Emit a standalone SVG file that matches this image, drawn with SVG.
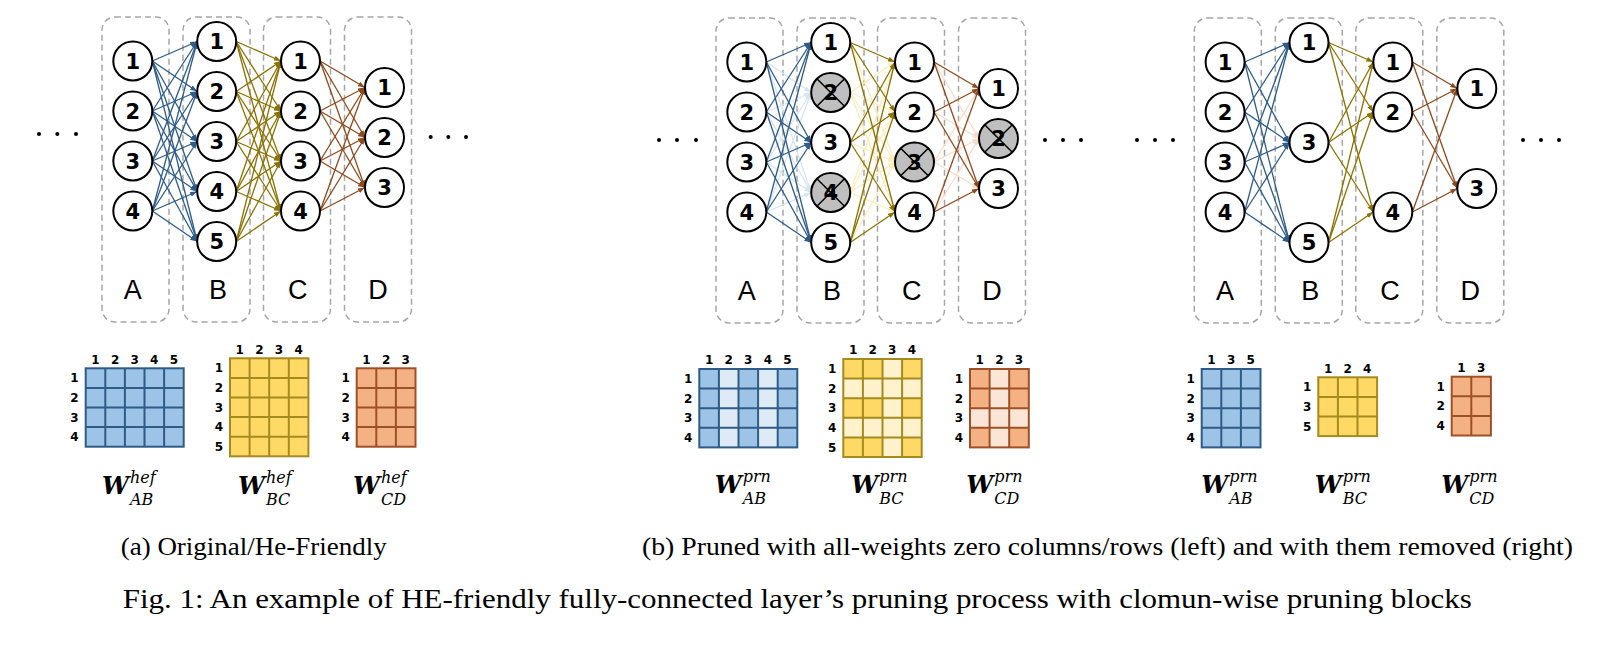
<svg xmlns="http://www.w3.org/2000/svg" width="1603" height="650" viewBox="0 0 1603 650">
<defs>
<style>
.box{fill:none;stroke:#A6A6A6;stroke-width:1.5;stroke-dasharray:6 4}
.lay{font-family:"Liberation Sans","Open Sans",Arial,sans-serif;font-size:27px;text-anchor:middle;fill:#000}
.nd circle{fill:#fff;stroke:#000;stroke-width:2}
.nd.pr circle{fill:#BFBFBF}
.nd path{stroke:#000;stroke-width:1.5;fill:none}
.nd text{font-family:"DejaVu Sans","Open Sans",sans-serif;font-weight:bold;font-size:21px;text-anchor:middle;fill:#000}
.cn path{fill:none;stroke-width:1.3}
.ab path{stroke:#2E5C8A;marker-end:url(#mB)}
.bc path{stroke:#8C7200;marker-end:url(#mY)}
.cd path{stroke:#8E4A1C;marker-end:url(#mO)}
.abl path{stroke:#D6E4F2;marker-end:url(#mBl)}
.bcl path{stroke:#FDEBB8;marker-end:url(#mYl)}
.cdl path{stroke:#F8DCCB;marker-end:url(#mOl)}
.dot{fill:#000}
.mh{font-family:"DejaVu Sans",sans-serif;font-weight:bold;font-size:12px;text-anchor:middle;fill:#000}
.fB{fill:#9DC3E6}.lB{fill:#DEEBF7}.sB{fill:none;stroke:#2F5B87;stroke-width:2}
.fY{fill:#FFD966}.lY{fill:#FFF2CC}.sY{fill:none;stroke:#A58A1E;stroke-width:2}
.fO{fill:#F4B183}.lO{fill:#FBE5D6}.sO{fill:none;stroke:#9E5026;stroke-width:2}
.wm{font-family:"DejaVu Serif","Liberation Serif",serif;font-weight:bold;font-style:italic;font-size:24px;fill:#000}
.ws{font-family:"DejaVu Serif","Liberation Serif",serif;font-style:italic;font-size:16px;fill:#000}
.cap{font-family:"Liberation Serif","Times New Roman",serif;fill:#000}
</style>
<marker id="mB" viewBox="0 0 7 5" refX="7" refY="2.5" markerWidth="7" markerHeight="5" markerUnits="userSpaceOnUse" orient="auto"><path d="M0,0L7,2.5L0,5z" fill="#2E5C8A"/></marker>
<marker id="mY" viewBox="0 0 7 5" refX="7" refY="2.5" markerWidth="7" markerHeight="5" markerUnits="userSpaceOnUse" orient="auto"><path d="M0,0L7,2.5L0,5z" fill="#8C7200"/></marker>
<marker id="mO" viewBox="0 0 7 5" refX="7" refY="2.5" markerWidth="7" markerHeight="5" markerUnits="userSpaceOnUse" orient="auto"><path d="M0,0L7,2.5L0,5z" fill="#8E4A1C"/></marker>
<marker id="mBl" viewBox="0 0 7 5" refX="7" refY="2.5" markerWidth="7" markerHeight="5" markerUnits="userSpaceOnUse" orient="auto"><path d="M0,0L7,2.5L0,5z" fill="#D6E4F2"/></marker>
<marker id="mYl" viewBox="0 0 7 5" refX="7" refY="2.5" markerWidth="7" markerHeight="5" markerUnits="userSpaceOnUse" orient="auto"><path d="M0,0L7,2.5L0,5z" fill="#FDEBB8"/></marker>
<marker id="mOl" viewBox="0 0 7 5" refX="7" refY="2.5" markerWidth="7" markerHeight="5" markerUnits="userSpaceOnUse" orient="auto"><path d="M0,0L7,2.5L0,5z" fill="#F8DCCB"/></marker>
</defs>
<rect width="1603" height="650" fill="#fff"/>

<!-- ellipsis dots -->
<g id="dots">
<circle class="dot" cx="39" cy="134" r="2"/><circle class="dot" cx="57.3" cy="134" r="2"/><circle class="dot" cx="76" cy="134" r="2"/>
<circle class="dot" cx="430.7" cy="137" r="2"/><circle class="dot" cx="448.3" cy="137" r="2"/><circle class="dot" cx="466" cy="137" r="2"/>
<circle class="dot" cx="659" cy="140" r="2"/><circle class="dot" cx="677" cy="140" r="2"/><circle class="dot" cx="696" cy="140" r="2"/>
<circle class="dot" cx="1045" cy="140" r="2"/><circle class="dot" cx="1063" cy="140" r="2"/><circle class="dot" cx="1081" cy="140" r="2"/>
<circle class="dot" cx="1137" cy="140" r="2"/><circle class="dot" cx="1155" cy="140" r="2"/><circle class="dot" cx="1173" cy="140" r="2"/>
<circle class="dot" cx="1523" cy="140" r="2"/><circle class="dot" cx="1541" cy="140" r="2"/><circle class="dot" cx="1559" cy="140" r="2"/>
</g>

<!-- ===== Panel 1 ===== -->
<g id="panel1">
<g id="p1-layers">
<rect class="box" x="102" y="17" width="67" height="305" rx="13"/>
<rect class="box" x="183" y="17" width="67" height="305" rx="13"/>
<rect class="box" x="263.5" y="17" width="67" height="305" rx="13"/>
<rect class="box" x="344.5" y="17" width="67" height="305" rx="13"/>
<text class="lay" x="132.7" y="299">A</text><text class="lay" x="218" y="299">B</text><text class="lay" x="297.7" y="299">C</text><text class="lay" x="378" y="299">D</text>
</g>
<g id="p1-connectors" class="cn">
<g class="ab">
<path d="M152.3 61L197.2 41.5"/><path d="M152.3 61L197.2 91.5"/><path d="M152.3 61L197.2 141.5"/><path d="M152.3 61L197.2 191.5"/><path d="M152.3 61L197.2 241.5"/>
<path d="M152.3 111L197.2 41.5"/><path d="M152.3 111L197.2 91.5"/><path d="M152.3 111L197.2 141.5"/><path d="M152.3 111L197.2 191.5"/><path d="M152.3 111L197.2 241.5"/>
<path d="M152.3 161L197.2 41.5"/><path d="M152.3 161L197.2 91.5"/><path d="M152.3 161L197.2 141.5"/><path d="M152.3 161L197.2 191.5"/><path d="M152.3 161L197.2 241.5"/>
<path d="M152.3 211L197.2 41.5"/><path d="M152.3 211L197.2 91.5"/><path d="M152.3 211L197.2 141.5"/><path d="M152.3 211L197.2 191.5"/><path d="M152.3 211L197.2 241.5"/>
</g>
<g class="bc">
<path d="M236.2 41.5L281 61"/><path d="M236.2 41.5L281 111"/><path d="M236.2 41.5L281 161"/><path d="M236.2 41.5L281 211"/>
<path d="M236.2 91.5L281 61"/><path d="M236.2 91.5L281 111"/><path d="M236.2 91.5L281 161"/><path d="M236.2 91.5L281 211"/>
<path d="M236.2 141.5L281 61"/><path d="M236.2 141.5L281 111"/><path d="M236.2 141.5L281 161"/><path d="M236.2 141.5L281 211"/>
<path d="M236.2 191.5L281 61"/><path d="M236.2 191.5L281 111"/><path d="M236.2 191.5L281 161"/><path d="M236.2 191.5L281 211"/>
<path d="M236.2 241.5L281 61"/><path d="M236.2 241.5L281 111"/><path d="M236.2 241.5L281 161"/><path d="M236.2 241.5L281 211"/>
</g>
<g class="cd">
<path d="M320 61L365 87.5"/><path d="M320 61L365 137.5"/><path d="M320 61L365 187.5"/>
<path d="M320 111L365 87.5"/><path d="M320 111L365 137.5"/><path d="M320 111L365 187.5"/>
<path d="M320 161L365 87.5"/><path d="M320 161L365 137.5"/><path d="M320 161L365 187.5"/>
<path d="M320 211L365 87.5"/><path d="M320 211L365 137.5"/><path d="M320 211L365 187.5"/>
</g>
</g>
<g id="p1-A1" class="nd"><circle cx="132.8" cy="61" r="19.5"/><text x="132.8" y="68.6">1</text></g>
<g id="p1-A2" class="nd"><circle cx="132.8" cy="111" r="19.5"/><text x="132.8" y="118.6">2</text></g>
<g id="p1-A3" class="nd"><circle cx="132.8" cy="161" r="19.5"/><text x="132.8" y="168.6">3</text></g>
<g id="p1-A4" class="nd"><circle cx="132.8" cy="211" r="19.5"/><text x="132.8" y="218.6">4</text></g>
<g id="p1-B1" class="nd"><circle cx="216.7" cy="41.5" r="19.5"/><text x="216.7" y="49.1">1</text></g>
<g id="p1-B2" class="nd"><circle cx="216.7" cy="91.5" r="19.5"/><text x="216.7" y="99.1">2</text></g>
<g id="p1-B3" class="nd"><circle cx="216.7" cy="141.5" r="19.5"/><text x="216.7" y="149.1">3</text></g>
<g id="p1-B4" class="nd"><circle cx="216.7" cy="191.5" r="19.5"/><text x="216.7" y="199.1">4</text></g>
<g id="p1-B5" class="nd"><circle cx="216.7" cy="241.5" r="19.5"/><text x="216.7" y="249.1">5</text></g>
<g id="p1-C1" class="nd"><circle cx="300.5" cy="61" r="19.5"/><text x="300.5" y="68.6">1</text></g>
<g id="p1-C2" class="nd"><circle cx="300.5" cy="111" r="19.5"/><text x="300.5" y="118.6">2</text></g>
<g id="p1-C3" class="nd"><circle cx="300.5" cy="161" r="19.5"/><text x="300.5" y="168.6">3</text></g>
<g id="p1-C4" class="nd"><circle cx="300.5" cy="211" r="19.5"/><text x="300.5" y="218.6">4</text></g>
<g id="p1-D1" class="nd"><circle cx="384.5" cy="87.5" r="19.5"/><text x="384.5" y="95.1">1</text></g>
<g id="p1-D2" class="nd"><circle cx="384.5" cy="137.5" r="19.5"/><text x="384.5" y="145.1">2</text></g>
<g id="p1-D3" class="nd"><circle cx="384.5" cy="187.5" r="19.5"/><text x="384.5" y="195.1">3</text></g>
</g>

<!-- ===== Panel 2 ===== -->
<g id="panel2" transform="translate(614,1)">
<g id="p2-layers">
<rect class="box" x="102" y="17" width="67" height="305" rx="13"/>
<rect class="box" x="183" y="17" width="67" height="305" rx="13"/>
<rect class="box" x="263.5" y="17" width="67" height="305" rx="13"/>
<rect class="box" x="344.5" y="17" width="67" height="305" rx="13"/>
<text class="lay" x="132.7" y="299">A</text><text class="lay" x="218" y="299">B</text><text class="lay" x="297.7" y="299">C</text><text class="lay" x="378" y="299">D</text>
</g>
<g id="p2-connectors" class="cn">
<g class="abl">
<path d="M152.3 61L197.2 91.5"/><path d="M152.3 61L197.2 191.5"/>
<path d="M152.3 111L197.2 91.5"/><path d="M152.3 111L197.2 191.5"/>
<path d="M152.3 161L197.2 91.5"/><path d="M152.3 161L197.2 191.5"/>
<path d="M152.3 211L197.2 91.5"/><path d="M152.3 211L197.2 191.5"/>
</g>
<g class="bcl">
<path d="M236.2 41.5L281 161"/><path d="M236.2 141.5L281 161"/><path d="M236.2 241.5L281 161"/>
<path d="M236.2 91.5L281 61"/><path d="M236.2 91.5L281 111"/><path d="M236.2 91.5L281 161"/><path d="M236.2 91.5L281 211"/>
<path d="M236.2 191.5L281 61"/><path d="M236.2 191.5L281 111"/><path d="M236.2 191.5L281 161"/><path d="M236.2 191.5L281 211"/>
</g>
<g class="cdl">
<path d="M320 61L365 137.5"/><path d="M320 111L365 137.5"/><path d="M320 211L365 137.5"/>
<path d="M320 161L365 87.5"/><path d="M320 161L365 137.5"/><path d="M320 161L365 187.5"/>
</g>
<g class="ab">
<path d="M152.3 61L197.2 41.5"/><path d="M152.3 61L197.2 141.5"/><path d="M152.3 61L197.2 241.5"/>
<path d="M152.3 111L197.2 41.5"/><path d="M152.3 111L197.2 141.5"/><path d="M152.3 111L197.2 241.5"/>
<path d="M152.3 161L197.2 41.5"/><path d="M152.3 161L197.2 141.5"/><path d="M152.3 161L197.2 241.5"/>
<path d="M152.3 211L197.2 41.5"/><path d="M152.3 211L197.2 141.5"/><path d="M152.3 211L197.2 241.5"/>
</g>
<g class="bc">
<path d="M236.2 41.5L281 61"/><path d="M236.2 41.5L281 111"/><path d="M236.2 41.5L281 211"/>
<path d="M236.2 141.5L281 61"/><path d="M236.2 141.5L281 111"/><path d="M236.2 141.5L281 211"/>
<path d="M236.2 241.5L281 61"/><path d="M236.2 241.5L281 111"/><path d="M236.2 241.5L281 211"/>
</g>
<g class="cd">
<path d="M320 61L365 87.5"/><path d="M320 61L365 187.5"/>
<path d="M320 111L365 87.5"/><path d="M320 111L365 187.5"/>
<path d="M320 211L365 87.5"/><path d="M320 211L365 187.5"/>
</g>
</g>
<g id="p2-A1" class="nd"><circle cx="132.8" cy="61" r="19.5"/><text x="132.8" y="68.6">1</text></g>
<g id="p2-A2" class="nd"><circle cx="132.8" cy="111" r="19.5"/><text x="132.8" y="118.6">2</text></g>
<g id="p2-A3" class="nd"><circle cx="132.8" cy="161" r="19.5"/><text x="132.8" y="168.6">3</text></g>
<g id="p2-A4" class="nd"><circle cx="132.8" cy="211" r="19.5"/><text x="132.8" y="218.6">4</text></g>
<g id="p2-B1" class="nd"><circle cx="216.7" cy="41.5" r="19.5"/><text x="216.7" y="49.1">1</text></g>
<g id="p2-B2" class="nd pr"><circle cx="216.7" cy="91.5" r="19.5"/><path d="M202.9 77.7L230.5 105.3M230.5 77.7L202.9 105.3"/><text x="216.7" y="99.1">2</text></g>
<g id="p2-B3" class="nd"><circle cx="216.7" cy="141.5" r="19.5"/><text x="216.7" y="149.1">3</text></g>
<g id="p2-B4" class="nd pr"><circle cx="216.7" cy="191.5" r="19.5"/><path d="M202.9 177.7L230.5 205.3M230.5 177.7L202.9 205.3"/><text x="216.7" y="199.1">4</text></g>
<g id="p2-B5" class="nd"><circle cx="216.7" cy="241.5" r="19.5"/><text x="216.7" y="249.1">5</text></g>
<g id="p2-C1" class="nd"><circle cx="300.5" cy="61" r="19.5"/><text x="300.5" y="68.6">1</text></g>
<g id="p2-C2" class="nd"><circle cx="300.5" cy="111" r="19.5"/><text x="300.5" y="118.6">2</text></g>
<g id="p2-C3" class="nd pr"><circle cx="300.5" cy="161" r="19.5"/><path d="M286.7 147.2L314.3 174.8M314.3 147.2L286.7 174.8"/><text x="300.5" y="168.6">3</text></g>
<g id="p2-C4" class="nd"><circle cx="300.5" cy="211" r="19.5"/><text x="300.5" y="218.6">4</text></g>
<g id="p2-D1" class="nd"><circle cx="384.5" cy="87.5" r="19.5"/><text x="384.5" y="95.1">1</text></g>
<g id="p2-D2" class="nd pr"><circle cx="384.5" cy="137.5" r="19.5"/><path d="M370.7 123.7L398.3 151.3M398.3 123.7L370.7 151.3"/><text x="384.5" y="145.1">2</text></g>
<g id="p2-D3" class="nd"><circle cx="384.5" cy="187.5" r="19.5"/><text x="384.5" y="195.1">3</text></g>
</g>

<!-- ===== Panel 3 ===== -->
<g id="panel3" transform="translate(1092.3,1)">
<g id="p3-layers">
<rect class="box" x="102" y="17" width="67" height="305" rx="13"/>
<rect class="box" x="183" y="17" width="67" height="305" rx="13"/>
<rect class="box" x="263.5" y="17" width="67" height="305" rx="13"/>
<rect class="box" x="344.5" y="17" width="67" height="305" rx="13"/>
<text class="lay" x="132.7" y="299">A</text><text class="lay" x="218" y="299">B</text><text class="lay" x="297.7" y="299">C</text><text class="lay" x="378" y="299">D</text>
</g>
<g id="p3-connectors" class="cn">
<g class="ab">
<path d="M152.3 61L197.2 41.5"/><path d="M152.3 61L197.2 141.5"/><path d="M152.3 61L197.2 241.5"/>
<path d="M152.3 111L197.2 41.5"/><path d="M152.3 111L197.2 141.5"/><path d="M152.3 111L197.2 241.5"/>
<path d="M152.3 161L197.2 41.5"/><path d="M152.3 161L197.2 141.5"/><path d="M152.3 161L197.2 241.5"/>
<path d="M152.3 211L197.2 41.5"/><path d="M152.3 211L197.2 141.5"/><path d="M152.3 211L197.2 241.5"/>
</g>
<g class="bc">
<path d="M236.2 41.5L281 61"/><path d="M236.2 41.5L281 111"/><path d="M236.2 41.5L281 211"/>
<path d="M236.2 141.5L281 61"/><path d="M236.2 141.5L281 111"/><path d="M236.2 141.5L281 211"/>
<path d="M236.2 241.5L281 61"/><path d="M236.2 241.5L281 111"/><path d="M236.2 241.5L281 211"/>
</g>
<g class="cd">
<path d="M320 61L365 87.5"/><path d="M320 61L365 187.5"/>
<path d="M320 111L365 87.5"/><path d="M320 111L365 187.5"/>
<path d="M320 211L365 87.5"/><path d="M320 211L365 187.5"/>
</g>
</g>
<g id="p3-A1" class="nd"><circle cx="132.8" cy="61" r="19.5"/><text x="132.8" y="68.6">1</text></g>
<g id="p3-A2" class="nd"><circle cx="132.8" cy="111" r="19.5"/><text x="132.8" y="118.6">2</text></g>
<g id="p3-A3" class="nd"><circle cx="132.8" cy="161" r="19.5"/><text x="132.8" y="168.6">3</text></g>
<g id="p3-A4" class="nd"><circle cx="132.8" cy="211" r="19.5"/><text x="132.8" y="218.6">4</text></g>
<g id="p3-B1" class="nd"><circle cx="216.7" cy="41.5" r="19.5"/><text x="216.7" y="49.1">1</text></g>
<g id="p3-B3" class="nd"><circle cx="216.7" cy="141.5" r="19.5"/><text x="216.7" y="149.1">3</text></g>
<g id="p3-B5" class="nd"><circle cx="216.7" cy="241.5" r="19.5"/><text x="216.7" y="249.1">5</text></g>
<g id="p3-C1" class="nd"><circle cx="300.5" cy="61" r="19.5"/><text x="300.5" y="68.6">1</text></g>
<g id="p3-C2" class="nd"><circle cx="300.5" cy="111" r="19.5"/><text x="300.5" y="118.6">2</text></g>
<g id="p3-C4" class="nd"><circle cx="300.5" cy="211" r="19.5"/><text x="300.5" y="218.6">4</text></g>
<g id="p3-D1" class="nd"><circle cx="384.5" cy="87.5" r="19.5"/><text x="384.5" y="95.1">1</text></g>
<g id="p3-D3" class="nd"><circle cx="384.5" cy="187.5" r="19.5"/><text x="384.5" y="195.1">3</text></g>
</g>

<!-- ===== Matrices ===== -->
<g id="m1-ab">
<rect class="fB" x="85.7" y="368.3" width="98" height="78.4"/>
<path class="sB" d="M105.3 368.3V446.7M124.9 368.3V446.7M144.5 368.3V446.7M164.1 368.3V446.7M85.7 387.9H183.7M85.7 407.5H183.7M85.7 427.1H183.7"/>
<rect class="sB" x="85.7" y="368.3" width="98" height="78.4"/>
<text class="mh" x="95.5" y="363.6">1</text><text class="mh" x="115.1" y="363.6">2</text><text class="mh" x="134.7" y="363.6">3</text><text class="mh" x="154.3" y="363.6">4</text><text class="mh" x="173.9" y="363.6">5</text>
<text class="mh" x="74.5" y="382.4">1</text><text class="mh" x="74.5" y="402">2</text><text class="mh" x="74.5" y="421.6">3</text><text class="mh" x="74.5" y="441.2">4</text>
<text class="wm" x="102" y="494">W</text><text class="ws" x="130" y="483">hef</text><text class="ws" x="130" y="505">AB</text>
</g>
<g id="m1-bc">
<rect class="fY" x="230" y="358.3" width="78.4" height="98"/>
<path class="sY" d="M249.6 358.3V456.3M269.2 358.3V456.3M288.8 358.3V456.3M230 377.9H308.4M230 397.5H308.4M230 417.1H308.4M230 436.7H308.4"/>
<rect class="sY" x="230" y="358.3" width="78.4" height="98"/>
<text class="mh" x="239.8" y="353.6">1</text><text class="mh" x="259.4" y="353.6">2</text><text class="mh" x="279" y="353.6">3</text><text class="mh" x="298.6" y="353.6">4</text>
<text class="mh" x="219" y="372.4">1</text><text class="mh" x="219" y="392">2</text><text class="mh" x="219" y="411.6">3</text><text class="mh" x="219" y="431.2">4</text><text class="mh" x="219" y="450.8">5</text>
<text class="wm" x="238" y="494">W</text><text class="ws" x="266" y="483">hef</text><text class="ws" x="266" y="505">BC</text>
</g>
<g id="m1-cd">
<rect class="fO" x="356.7" y="368.3" width="58.8" height="78.4"/>
<path class="sO" d="M376.3 368.3V446.7M395.9 368.3V446.7M356.7 387.9H415.5M356.7 407.5H415.5M356.7 427.1H415.5"/>
<rect class="sO" x="356.7" y="368.3" width="58.8" height="78.4"/>
<text class="mh" x="366.5" y="363.6">1</text><text class="mh" x="386.1" y="363.6">2</text><text class="mh" x="405.7" y="363.6">3</text>
<text class="mh" x="345.7" y="382.4">1</text><text class="mh" x="345.7" y="402">2</text><text class="mh" x="345.7" y="421.6">3</text><text class="mh" x="345.7" y="441.2">4</text>
<text class="wm" x="353" y="494">W</text><text class="ws" x="381" y="483">hef</text><text class="ws" x="381" y="505">CD</text>
</g>

<g id="m2-ab">
<rect class="fB" x="699.3" y="369" width="98" height="78.4"/>
<rect class="lB" x="718.9" y="369" width="19.6" height="78.4"/><rect class="lB" x="758.1" y="369" width="19.6" height="78.4"/>
<path class="sB" d="M718.9 369V447.4M738.5 369V447.4M758.1 369V447.4M777.7 369V447.4M699.3 388.6H797.3M699.3 408.2H797.3M699.3 427.8H797.3"/>
<rect class="sB" x="699.3" y="369" width="98" height="78.4"/>
<text class="mh" x="709.1" y="364.3">1</text><text class="mh" x="728.7" y="364.3">2</text><text class="mh" x="748.3" y="364.3">3</text><text class="mh" x="767.9" y="364.3">4</text><text class="mh" x="787.5" y="364.3">5</text>
<text class="mh" x="688.3" y="383.1">1</text><text class="mh" x="688.3" y="402.7">2</text><text class="mh" x="688.3" y="422.3">3</text><text class="mh" x="688.3" y="441.9">4</text>
<text class="wm" x="714.7" y="493">W</text><text class="ws" x="742.7" y="482">prn</text><text class="ws" x="742.7" y="504">AB</text>
</g>
<g id="m2-bc">
<rect class="fY" x="843.3" y="359" width="78.4" height="98"/>
<rect class="lY" x="882.5" y="359" width="19.6" height="98"/><rect class="lY" x="843.3" y="378.6" width="78.4" height="19.6"/><rect class="lY" x="843.3" y="417.8" width="78.4" height="19.6"/>
<path class="sY" d="M862.9 359V457M882.5 359V457M902.1 359V457M843.3 378.6H921.7M843.3 398.2H921.7M843.3 417.8H921.7M843.3 437.4H921.7"/>
<rect class="sY" x="843.3" y="359" width="78.4" height="98"/>
<text class="mh" x="853.1" y="354.3">1</text><text class="mh" x="872.7" y="354.3">2</text><text class="mh" x="892.3" y="354.3">3</text><text class="mh" x="911.9" y="354.3">4</text>
<text class="mh" x="832.3" y="373.1">1</text><text class="mh" x="832.3" y="392.7">2</text><text class="mh" x="832.3" y="412.3">3</text><text class="mh" x="832.3" y="431.9">4</text><text class="mh" x="832.3" y="451.5">5</text>
<text class="wm" x="851.3" y="493">W</text><text class="ws" x="879.3" y="482">prn</text><text class="ws" x="879.3" y="504">BC</text>
</g>
<g id="m2-cd">
<rect class="fO" x="970" y="369" width="58.8" height="78.4"/>
<rect class="lO" x="989.6" y="369" width="19.6" height="78.4"/><rect class="lO" x="970" y="408.2" width="58.8" height="19.6"/>
<path class="sO" d="M989.6 369V447.4M1009.2 369V447.4M970 388.6H1028.8M970 408.2H1028.8M970 427.8H1028.8"/>
<rect class="sO" x="970" y="369" width="58.8" height="78.4"/>
<text class="mh" x="979.8" y="364.3">1</text><text class="mh" x="999.4" y="364.3">2</text><text class="mh" x="1019" y="364.3">3</text>
<text class="mh" x="959" y="383.1">1</text><text class="mh" x="959" y="402.7">2</text><text class="mh" x="959" y="422.3">3</text><text class="mh" x="959" y="441.9">4</text>
<text class="wm" x="966.3" y="493">W</text><text class="ws" x="994.3" y="482">prn</text><text class="ws" x="994.3" y="504">CD</text>
</g>

<g id="m3-ab">
<rect class="fB" x="1201.7" y="369" width="58.8" height="78.4"/>
<path class="sB" d="M1221.3 369V447.4M1240.9 369V447.4M1201.7 388.6H1260.5M1201.7 408.2H1260.5M1201.7 427.8H1260.5"/>
<rect class="sB" x="1201.7" y="369" width="58.8" height="78.4"/>
<text class="mh" x="1211.5" y="364.3">1</text><text class="mh" x="1231.1" y="364.3">3</text><text class="mh" x="1250.7" y="364.3">5</text>
<text class="mh" x="1190.7" y="383.1">1</text><text class="mh" x="1190.7" y="402.7">2</text><text class="mh" x="1190.7" y="422.3">3</text><text class="mh" x="1190.7" y="441.9">4</text>
<text class="wm" x="1201.3" y="493">W</text><text class="ws" x="1229.3" y="482">prn</text><text class="ws" x="1229.3" y="504">AB</text>
</g>
<g id="m3-bc">
<rect class="fY" x="1318.3" y="377.3" width="58.8" height="58.8"/>
<path class="sY" d="M1337.9 377.3V436.1M1357.5 377.3V436.1M1318.3 396.9H1377.1M1318.3 416.5H1377.1"/>
<rect class="sY" x="1318.3" y="377.3" width="58.8" height="58.8"/>
<text class="mh" x="1328.1" y="372.6">1</text><text class="mh" x="1347.7" y="372.6">2</text><text class="mh" x="1367.3" y="372.6">4</text>
<text class="mh" x="1307.3" y="391.4">1</text><text class="mh" x="1307.3" y="411">3</text><text class="mh" x="1307.3" y="430.6">5</text>
<text class="wm" x="1314.7" y="493">W</text><text class="ws" x="1342.7" y="482">prn</text><text class="ws" x="1342.7" y="504">BC</text>
</g>
<g id="m3-cd">
<rect class="fO" x="1451.7" y="376.7" width="39.2" height="58.8"/>
<path class="sO" d="M1471.3 376.7V435.5M1451.7 396.3H1490.9M1451.7 415.9H1490.9"/>
<rect class="sO" x="1451.7" y="376.7" width="39.2" height="58.8"/>
<text class="mh" x="1461.5" y="372">1</text><text class="mh" x="1481.1" y="372">3</text>
<text class="mh" x="1440.7" y="390.8">1</text><text class="mh" x="1440.7" y="410.4">2</text><text class="mh" x="1440.7" y="430">4</text>
<text class="wm" x="1441.3" y="493">W</text><text class="ws" x="1469.3" y="482">prn</text><text class="ws" x="1469.3" y="504">CD</text>
</g>

<!-- ===== Captions ===== -->
<g id="captions">
<text class="cap" x="120.7" y="555" font-size="25.5" textLength="266" lengthAdjust="spacingAndGlyphs">(a) Original/He-Friendly</text>
<text class="cap" x="642" y="555" font-size="25.5" textLength="931" lengthAdjust="spacingAndGlyphs">(b) Pruned with all-weights zero columns/rows (left) and with them removed (right)</text>
<text class="cap" x="122.7" y="607.5" font-size="28" textLength="1349" lengthAdjust="spacingAndGlyphs">Fig. 1: An example of HE-friendly fully-connected layer’s pruning process with clomun-wise pruning blocks</text>
</g>
</svg>
